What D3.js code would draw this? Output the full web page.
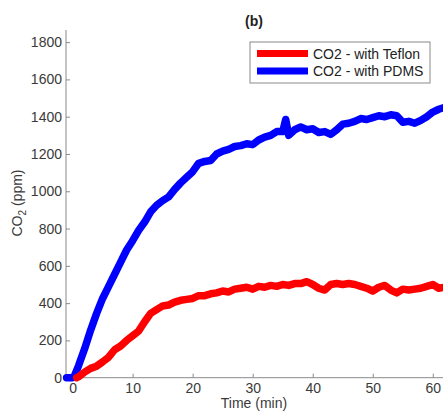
<!DOCTYPE html>
<html>
<head>
<meta charset="utf-8">
<script src="https://cdn.jsdelivr.net/npm/d3@7"></script>
<style>
  body { margin: 0; background: #fff; }
  svg { display: block; font-family: "Liberation Sans", Arial, sans-serif; }
  .axis path, .axis line { stroke: #8a8a8a; }
  .axis text { fill: #3a3a3a; font-size: 14px; }
</style>
</head>
<body>
<svg width="443" height="411"></svg>
<script>
// time (min) and CO2 (ppm)
var timeBlue = [-1, -0.5, 0, 0.3, 1, 2, 3, 4, 5, 6, 7, 8, 9, 10, 11, 12, 13, 14, 15, 16, 17, 18, 19, 20,
  21, 22, 23, 24, 25, 26, 27, 28, 29, 30, 31, 32, 33, 34, 35, 35.5, 36, 37, 38, 39, 40, 41, 42, 43, 44,
  45, 46, 47, 48, 49, 50, 51, 52, 53, 54, 55, 56, 57, 58, 59, 60, 61, 62];
var co2Pdms = [0, 0, 0, 10, 65, 155, 255, 345, 425, 490, 555, 620, 685, 735, 790, 835, 890, 925, 950, 970, 1010, 1045, 1075, 1105,
  1150, 1160, 1165, 1200, 1215, 1225, 1240, 1245, 1255, 1250, 1275, 1290, 1300, 1320, 1320, 1385, 1300, 1330, 1345, 1330, 1335, 1315, 1320, 1305, 1330,
  1360, 1365, 1375, 1390, 1385, 1395, 1405, 1400, 1410, 1405, 1370, 1375, 1365, 1380, 1400, 1425, 1440, 1450];

var timeRed = [0.7, 1, 2, 3, 4, 5, 6, 7, 8, 9, 10, 11, 12, 13, 14, 15, 16, 17, 18, 19, 20,
  21, 22, 23, 24, 25, 26, 27, 28, 29, 30, 31, 32, 33, 34, 35, 36, 37, 38, 39, 40, 41, 42, 43, 44,
  45, 46, 47, 48, 49, 50, 51, 52, 53, 54, 55, 56, 57, 58, 59, 60, 61, 62];
var co2Teflon = [0, 5, 30, 50, 62, 85, 110, 150, 170, 200, 225, 250, 300, 345, 365, 385, 390, 405, 415, 420, 425,
  440, 440, 450, 455, 465, 460, 475, 480, 485, 475, 490, 485, 495, 490, 500, 495, 505, 505, 515, 500, 480, 470, 500, 505,
  500, 505, 500, 490, 480, 465, 485, 495, 470, 455, 475, 470, 475, 480, 490, 500, 480, 485];

var yTicks = [0, 200, 400, 600, 800, 1000, 1200, 1400, 1600, 1800];
var xTicks = [0, 10, 20, 30, 40, 50, 60];
var seriesNames = ["CO2 - with Teflon", "CO2 - with PDMS"];
var seriesColors = ["#ff0000", "#0000ff"];

var svg = d3.select("svg");

var x = d3.scaleLinear().domain([-1.1, 61.7]).range([66, 443]);
var y = d3.scaleLinear().domain([0, 1865]).range([377.7, 30]);

var line = d3.line()
  .x(function(d){ return x(d[0]); })
  .y(function(d){ return y(d[1]); });

var series = [
  d3.zip(timeRed, co2Teflon),
  d3.zip(timeBlue, co2Pdms)
];

// axes
svg.append("g")
  .attr("class", "axis")
  .attr("transform", "translate(0," + y(0) + ")")
  .call(d3.axisBottom(x).tickValues(xTicks).tickFormat(d3.format("d")).tickSize(-4).tickPadding(5).tickSizeOuter(0))
  .call(function(g){ g.select(".domain").attr("d", "M" + x.range()[0] + ",0H" + x.range()[1]); });

svg.append("g")
  .attr("class", "axis")
  .attr("transform", "translate(" + x.range()[0] + ",0)")
  .call(d3.axisLeft(y).tickValues(yTicks).tickFormat(d3.format("d")).tickSize(-4).tickPadding(4).tickSizeOuter(0))
  .call(function(g){ g.select(".domain").attr("d", "M0," + y.range()[0] + "V" + y.range()[1]); });

// curves
svg.append("g").selectAll("path")
  .data([series[1], series[0]])
  .enter().append("path")
  .attr("d", line)
  .attr("fill", "none")
  .attr("stroke", function(d, i){ return i == 0 ? seriesColors[1] : seriesColors[0]; })
  .attr("stroke-width", 7.5)
  .attr("stroke-linejoin", "round")
  .attr("stroke-linecap", "round");

// labels
svg.append("text")
  .attr("x", 254).attr("y", 408)
  .attr("text-anchor", "middle")
  .style("font-size", "14px").style("fill", "#3a3a3a")
  .text("Time (min)");

var yl = svg.append("text")
  .attr("transform", "translate(22,203) rotate(-90)")
  .attr("text-anchor", "middle")
  .style("font-size", "14px").style("fill", "#3a3a3a");
yl.append("tspan").text("CO");
yl.append("tspan").attr("dy", 4).style("font-size", "10px").text("2");
yl.append("tspan").attr("dy", -4).text(" (ppm)");

svg.append("text")
  .attr("x", 254).attr("y", 26)
  .attr("text-anchor", "middle")
  .style("font-size", "14px").style("font-weight", "bold").style("fill", "#222")
  .text("(b)");

// legend
var legend = svg.append("g").attr("transform", "translate(250,42)");
legend.append("rect")
  .attr("width", 180).attr("height", 41)
  .attr("fill", "#fff").attr("stroke", "#8a8a8a");
var item = legend.selectAll(".item")
  .data(seriesNames)
  .enter().append("g")
  .attr("transform", function(d, i){ return "translate(0," + (11.5 + i * 17.5) + ")"; });
item.append("line")
  .attr("x1", 7).attr("x2", 58)
  .attr("stroke", function(d, i){ return seriesColors[i]; })
  .attr("stroke-width", 7);
item.append("text")
  .attr("x", 63).attr("y", 5)
  .style("font-size", "14px").style("fill", "#222")
  .text(function(d){ return d; });
</script>
</body>
</html>
